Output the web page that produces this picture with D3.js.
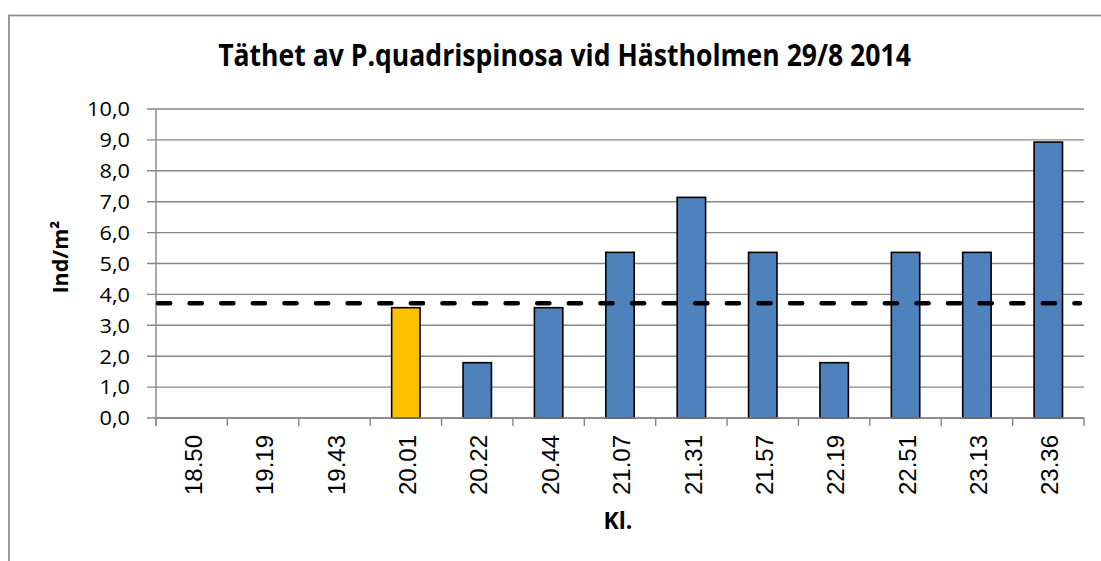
<!DOCTYPE html>
<html>
<head>
<meta charset="utf-8">
<script src="https://cdn.jsdelivr.net/npm/d3@7"></script>
<style>
  html, body { margin: 0; padding: 0; background: #fff; }
  svg { display: block; }
</style>
</head>
<body>
<svg id="chart" width="1101" height="561"></svg>
<script>
// ---- data ----
const categories = ["18.50","19.19","19.43","20.01","20.22","20.44","21.07","21.31","21.57","22.19","22.51","23.13","23.36"];
const values     = [0, 0, 0, 3.57, 1.79, 3.57, 5.36, 7.14, 5.36, 1.79, 5.36, 5.36, 8.93];
const highlighted = ["20.01"];
const meanValue = 3.71;
const yTicks = [0,1,2,3,4,5,6,7,8,9,10];
const titleText = "Täthet av P.quadrispinosa vid Hästholmen 29/8 2014";
const yTitle = "Ind/m²";
const xTitle = "Kl.";

// ---- layout ----
const W = 1101, H = 561;
const plot = { left: 156, right: 1084, top: 109, bottom: 418 };
const svg = d3.select("#chart");
const gray = "#878787";

// chart border
svg.append("rect")
  .attr("x", 9).attr("y", 15.5)
  .attr("width", W).attr("height", H)
  .attr("fill", "#fff").attr("stroke", gray).attr("stroke-width", 1.7);

const xb = d3.scaleBand().domain(categories).range([plot.left, plot.right]);
const y = d3.scaleLinear().domain([0, 10]).range([plot.bottom, plot.top]);

// gridlines
svg.append("g").selectAll("line").data(yTicks).join("line")
  .attr("x1", plot.left - 9).attr("x2", plot.right)
  .attr("y1", d => y(d)).attr("y2", d => y(d))
  .attr("stroke", gray).attr("stroke-width", 1.4);

// y axis line
svg.append("line")
  .attr("x1", plot.left).attr("x2", plot.left)
  .attr("y1", plot.top).attr("y2", plot.bottom + 8)
  .attr("stroke", gray).attr("stroke-width", 1.4);

// y tick labels
svg.append("g").selectAll("text").data(yTicks).join("text")
  .attr("transform", d => `translate(${plot.left - 26},${y(d)}) scale(1.06,1)`)
  .attr("dy", "0.36em")
  .attr("text-anchor", "end")
  .attr("font-family", "'Open Sans', sans-serif")
  .attr("font-size", 20.5)
  .attr("fill", "#000")
  .text(d => d3.format(".1f")(d).replace(".", ","));

// x axis ticks at band boundaries
const boundaries = categories.map(c => xb(c)).concat([plot.right]);
svg.append("g").selectAll("line").data(boundaries).join("line")
  .attr("x1", d => d).attr("x2", d => d)
  .attr("y1", plot.bottom).attr("y2", plot.bottom + 8)
  .attr("stroke", gray).attr("stroke-width", 1.4);

// bars
svg.append("g").selectAll("rect").data(categories.map((c, i) => ({c, v: values[i]})).filter(d => d.v > 0)).join("rect")
  .attr("x", d => xb(d.c) + xb.bandwidth() / 2 - 14.2)
  .attr("width", 28.4)
  .attr("y", d => y(d.v))
  .attr("height", d => y(0) - y(d.v))
  .attr("fill", d => highlighted.includes(d.c) ? "#FFC000" : "#4F81BD")
  .attr("stroke", "#000").attr("stroke-width", 1.6);

// x axis line
svg.append("line")
  .attr("x1", plot.left).attr("x2", plot.right)
  .attr("y1", plot.bottom).attr("y2", plot.bottom)
  .attr("stroke", gray).attr("stroke-width", 1.4);

// mean dashed line
svg.append("line")
  .attr("x1", plot.left + 2).attr("x2", plot.right - 4)
  .attr("y1", y(meanValue)).attr("y2", y(meanValue))
  .attr("stroke", "#000").attr("stroke-width", 4.5)
  .attr("stroke-linecap", "round")
  .attr("stroke-dasharray", "12.2 19.4");

// x tick labels (rotated)
svg.append("g").selectAll("text").data(categories).join("text")
  .attr("transform", d => `translate(${xb(d) + xb.bandwidth() / 2 + 1.5},435) rotate(-90)`)
  .attr("text-anchor", "end")
  .attr("dy", "0.36em")
  .attr("font-family", "'Liberation Sans', Arial, sans-serif")
  .attr("font-size", 24)
  .attr("fill", "#000")
  .text(d => d);

// helper to fit text width
function fit(sel, target) {
  const w = sel.node().getComputedTextLength();
  return target / w;
}

// title
const t = svg.append("text")
  .attr("text-anchor", "middle")
  .attr("font-family", "'Open Sans', sans-serif")
  .attr("font-weight", "bold")
  .attr("font-size", 29.5)
  .attr("fill", "#000")
  .text(titleText);
const kt = fit(t, 693);
t.attr("transform", `translate(564.5,66) scale(${kt},1)`);

// y title
const yt = svg.append("text")
  .attr("text-anchor", "middle")
  .attr("font-family", "'Open Sans', sans-serif")
  .attr("font-weight", "bold")
  .attr("font-size", 21.5)
  .attr("fill", "#000")
  .text(yTitle);
yt.attr("transform", `translate(68,257) rotate(-90)`);

// x title
svg.append("text")
  .attr("x", (plot.left + plot.right) / 2 - 2).attr("y", 529)
  .attr("text-anchor", "middle")
  .attr("font-family", "'Open Sans', sans-serif")
  .attr("font-weight", "bold")
  .attr("font-size", 23)
  .attr("fill", "#000")
  .text(xTitle);
</script>
</body>
</html>
